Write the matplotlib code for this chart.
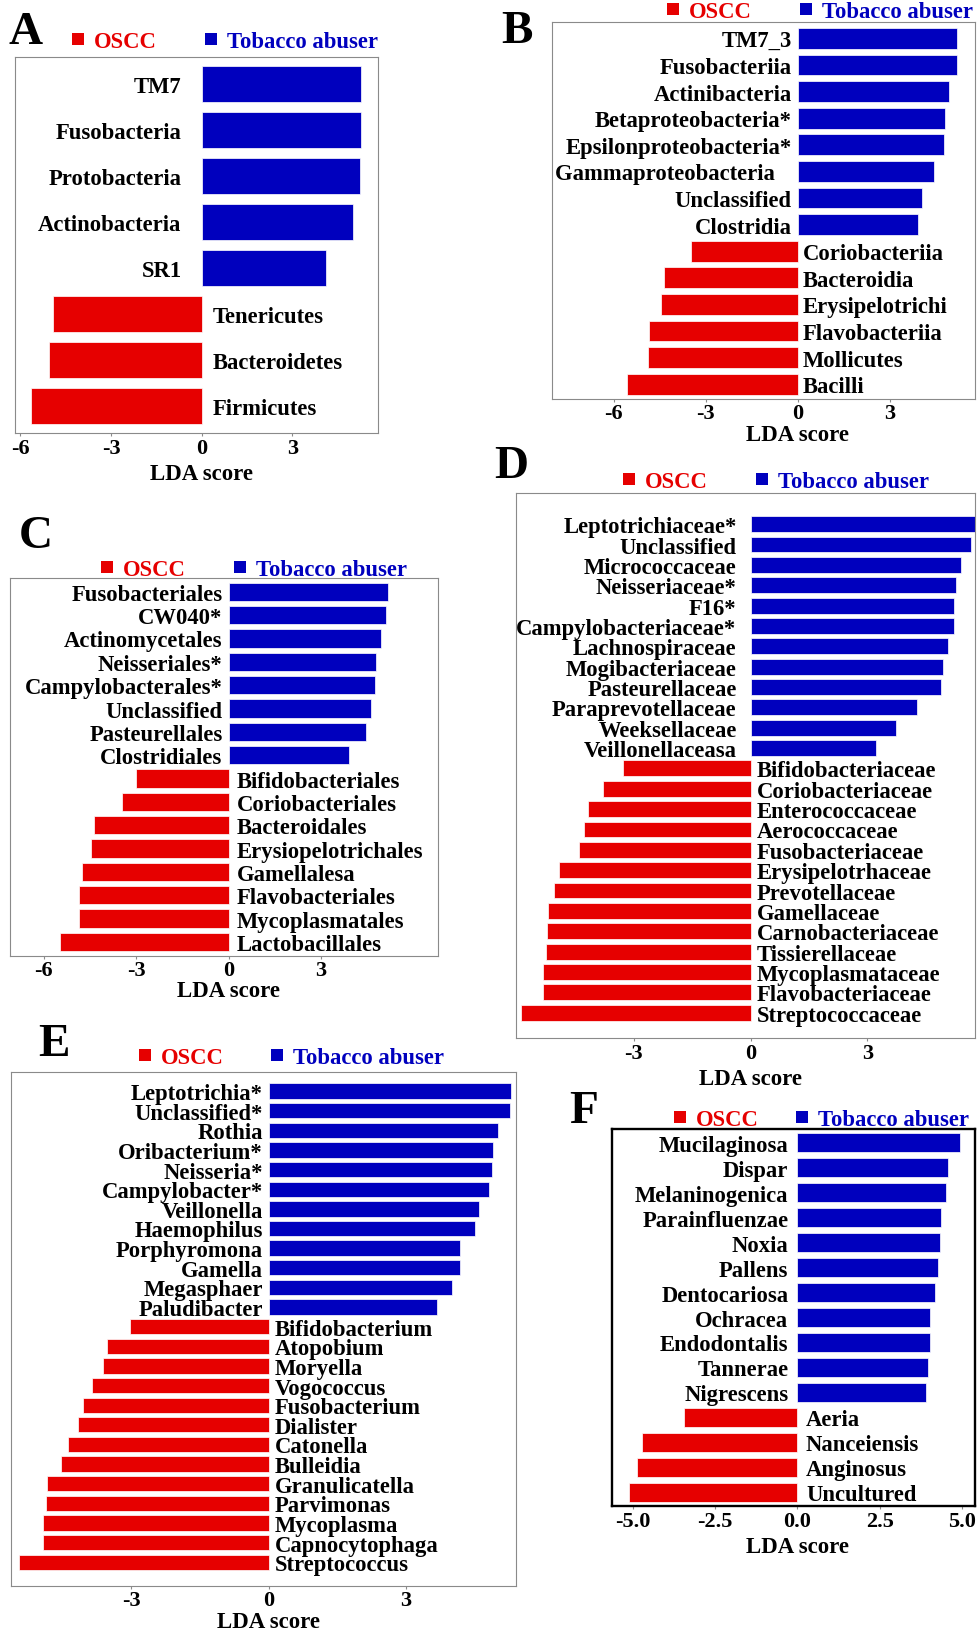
import matplotlib
matplotlib.use("Agg")
import matplotlib.pyplot as plt
from matplotlib.patches import Rectangle

plt.rcParams["font.family"] = ["Liberation Serif", "DejaVu Serif"]
plt.rcParams["font.weight"] = "bold"
plt.rcParams["axes.unicode_minus"] = False

RED = "#E60000"
BLUE = "#0000BE"
W, H = 978, 1631
PT = 72 / 100  # pixels -> points at dpi 100

# A: phylum
a_tob = ["TM7", "Fusobacteria", "Protobacteria", "Actinobacteria", "SR1"]
a_tob_lda = [5.27, 5.27, 5.24, 5.01, 4.11]
a_oscc = ["Tenericutes", "Bacteroidetes", "Firmicutes"]
a_oscc_lda = [-4.93, -5.05, -5.66]

# B: class
b_tob = ["TM7_3", "Fusobacteriia", "Actinibacteria", "Betaproteobacteria*",
         "Epsilonproteobacteria*", "Gammaproteobacteria   ", "Unclassified", "Clostridia"]
b_tob_lda = [5.19, 5.19, 4.93, 4.79, 4.76, 4.45, 4.04, 3.92]
b_oscc = ["Coriobacteriia", "Bacteroidia", "Erysipelotrichi", "Flavobacteriia",
          "Mollicutes", "Bacilli"]
b_oscc_lda = [-3.47, -4.36, -4.47, -4.85, -4.88, -5.56]

# C: order
c_tob = ["Fusobacteriales", "CW040*", "Actinomycetales", "Neisseriales*",
         "Campylobacterales*", "Unclassified", "Pasteurellales", "Clostridiales"]
c_tob_lda = [5.18, 5.10, 4.95, 4.79, 4.74, 4.61, 4.45, 3.92]
c_oscc = ["Bifidobacteriales", "Coriobacteriales", "Bacteroidales", "Erysiopelotrichales",
          "Gamellalesa", "Flavobacteriales", "Mycoplasmatales", "Lactobacillales"]
c_oscc_lda = [-3.00, -3.47, -4.36, -4.47, -4.76, -4.86, -4.87, -5.49]

# D: family
d_tob = ["Leptotrichiaceae*", "Unclassified", "Micrococcaceae", "Neisseriaceae*", "F16*",
         "Campylobacteriaceae*", "Lachnospiraceae", "Mogibacteriaceae", "Pasteurellaceae",
         "Paraprevotellaceae", "Weeksellaceae", "Veillonellaceasa"]
d_tob_lda = [5.80, 5.68, 5.42, 5.28, 5.23, 5.23, 5.08, 4.95, 4.89, 4.29, 3.74, 3.22]
d_oscc = ["Bifidobacteriaceae", "Coriobacteriaceae", "Enterococcaceae", "Aerococcaceae",
          "Fusobacteriaceae", "Erysipelotrhaceae", "Prevotellaceae", "Gamellaceae",
          "Carnobacteriaceae", "Tissierellaceae", "Mycoplasmataceae", "Flavobacteriaceae",
          "Streptococcaceae"]
d_oscc_lda = [-3.29, -3.80, -4.17, -4.28, -4.41, -4.92, -5.06, -5.22, -5.24, -5.27,
              -5.35, -5.35, -5.90]

# E: genus
e_tob = ["Leptotrichia*", "Unclassified*", "Rothia", "Oribacterium*", "Neisseria*",
         "Campylobacter*", "Veillonella", "Haemophilus", "Porphyromona", "Gamella",
         "Megasphaer", "Paludibacter"]
e_tob_lda = [5.29, 5.27, 5.00, 4.90, 4.88, 4.80, 4.59, 4.50, 4.18, 4.18, 4.01, 3.68]
e_oscc = ["Bifidobacterium", "Atopobium", "Moryella", "Vogococcus", "Fusobacterium",
          "Dialister", "Catonella", "Bulleidia", "Granulicatella", "Parvimonas",
          "Mycoplasma", "Capnocytophaga", "Streptococcus"]
e_oscc_lda = [-3.03, -3.52, -3.61, -3.85, -4.06, -4.16, -4.38, -4.53, -4.83, -4.86,
              -4.93, -4.93, -5.45]

# F: species
f_tob = ["Mucilaginosa", "Dispar", "Melaninogenica", "Parainfluenzae", "Noxia", "Pallens",
         "Dentocariosa", "Ochracea", "Endodontalis", "Tannerae", "Nigrescens"]
f_tob_lda = [4.94, 4.58, 4.53, 4.36, 4.34, 4.28, 4.18, 4.03, 4.02, 3.96, 3.91]
f_oscc = ["Aeria", "Nanceiensis", "Anginosus", "Uncultured"]
f_oscc_lda = [-3.46, -4.74, -4.89, -5.11]

fig = plt.figure(figsize=(W / 100, H / 100), dpi=100)


def fx(x):
    return x / W


def fy(y):
    return 1 - y / H


def draw_panel(box, tob, tob_lda, oscc, oscc_lda, xlim, ypad, ticks, fmt, gap,
               xlab_off, letter, letter_xy, legend, frame="#8a8a8a", frame_lw=0.8):
    left, top, right, bottom = box
    ax = fig.add_axes([fx(left), fy(bottom), (right - left) / W, (bottom - top) / H])
    names = tob + oscc
    vals = tob_lda + oscc_lda
    n = len(names)
    ypos = [n - 1 - i for i in range(n)]
    colors = [BLUE] * len(tob) + [RED] * len(oscc)
    ax.barh(ypos, vals, height=0.78, color=colors, edgecolor="white", linewidth=0.5)

    for y, name, v in zip(ypos, names, vals):
        if v > 0:
            ax.annotate(name, xy=(0, y), xytext=(-gap[0] * PT, 0), textcoords="offset points",
                        ha="right", va="center_baseline", fontsize=16.3)
        else:
            ax.annotate(name, xy=(0, y), xytext=(gap[1] * PT, 0), textcoords="offset points",
                        ha="left", va="center_baseline", fontsize=16.3)

    ax.set_xlim(xlim)
    ax.set_ylim(-ypad[0], n - 1 + ypad[1])
    ax.set_yticks([])
    ax.set_xticks(ticks)
    ax.set_xticklabels([fmt.format(t) for t in ticks], fontsize=16)
    ax.tick_params(axis="x", length=2.2, width=0.8, color="#8a8a8a", pad=1.0)
    for s in ax.spines.values():
        s.set_color(frame)
        s.set_linewidth(frame_lw)

    ax.annotate("LDA score", xy=(0, 0), xycoords=("data", "axes fraction"),
                xytext=(0, -xlab_off * PT), textcoords="offset points",
                ha="center", va="center_baseline", fontsize=16.5, annotation_clip=False)

    fig.text(fx(letter_xy[0]), fy(letter_xy[1]), letter, fontsize=34,
             ha="center", va="center_baseline")

    # group legend: coloured square + name
    ox, tx, ly = legend
    for x, label, c in [(ox, "OSCC", RED), (tx, "Tobacco abuser", BLUE)]:
        fig.add_artist(Rectangle((fx(x - 22), fy(ly + 6)), 12 / W, 12 / H,
                                 transform=fig.transFigure, color=c, lw=0))
        fig.text(fx(x), fy(ly), label, color=c, fontsize=16.3, va="center_baseline")
    return ax


draw_panel((14.7, 57.7, 377.7, 434.3), a_tob, a_tob_lda, a_oscc, a_oscc_lda,
           (-6.19, 5.83), (0.6, 0.6), [-6, -3, 0, 3], "{:g}", (20, 11), 37.7,
           "A", (26, 28), (94, 227, 40))

draw_panel((551.7, 23.3, 975, 400), b_tob, b_tob_lda, b_oscc, b_oscc_lda,
           (-8.02, 5.77), (0.55, 0.6), [-6, -3, 0, 3], "{:g}", (6, 5), 33,
           "B", (517, 27), (689, 822, 10))

draw_panel((10, 578.8, 437.7, 956.9), c_tob, c_tob_lda, c_oscc, c_oscc_lda,
           (-7.10, 6.79), (0.6, 0.6), [-6, -3, 0, 3], "{:g}", (6, 8), 31.7,
           "C", (36, 532), (123, 256, 568))

draw_panel((515.7, 493.6, 975, 1039.3), d_tob, d_tob_lda, d_oscc, d_oscc_lda,
           (-6.04, 5.77), (1.26, 1.55), [-3, 0, 3], "{:g}", (14, 6), 37.5,
           "D", (511, 462), (645, 778, 480))

draw_panel((10.7, 1073.4, 516, 1587), e_tob, e_tob_lda, e_oscc, e_oscc_lda,
           (-5.63, 5.40), (1.21, 0.95), [-3, 0, 3], "{:g}", (5.5, 6.5), 33,
           "E", (54, 1040), (161, 293, 1056))

draw_panel((611.7, 1130, 975, 1507.3), f_tob, f_tob_lda, f_oscc, f_oscc_lda,
           (-5.65, 5.40), (0.56, 0.55), [-5, -2.5, 0, 2.5, 5], "{:.1f}", (9, 8.5), 37.7,
           "F", (584, 1107), (696, 818, 1118), frame="black", frame_lw=1.7)

fig.savefig("out.png", dpi=100)
